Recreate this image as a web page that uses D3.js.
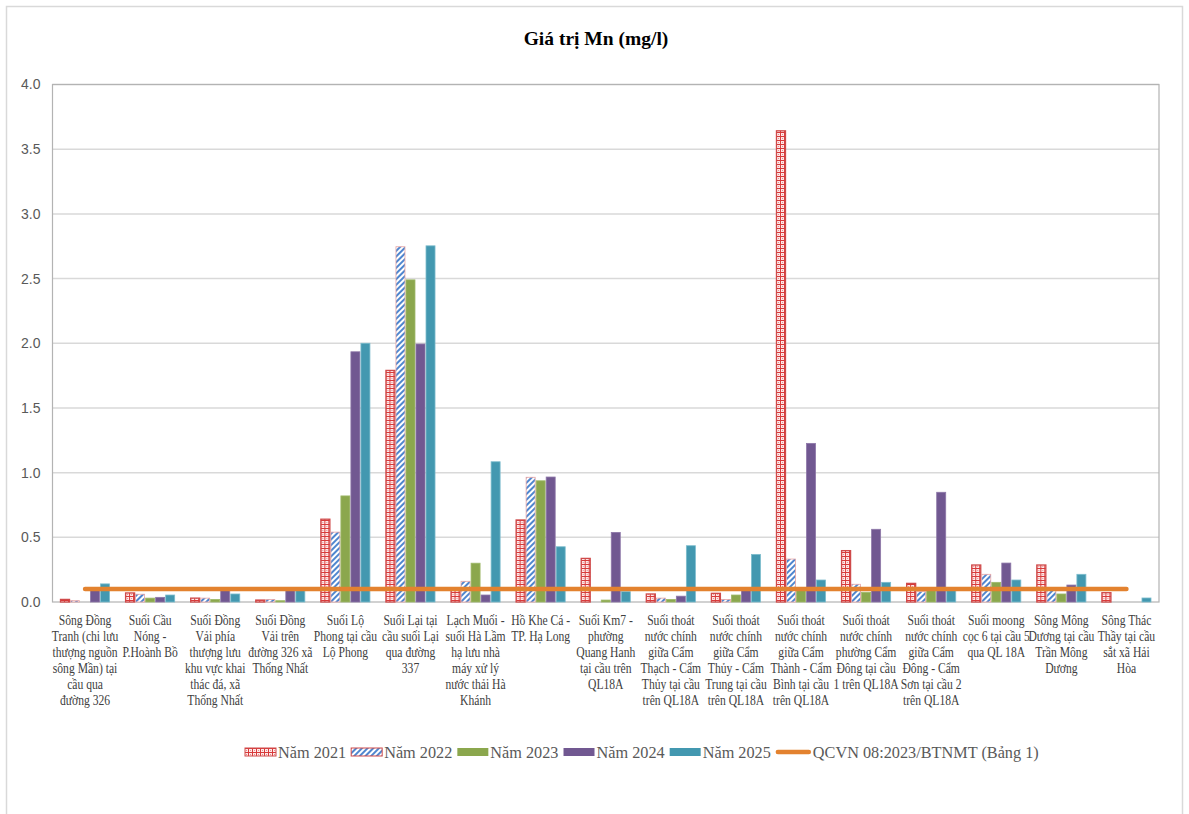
<!DOCTYPE html>
<html>
<head>
<meta charset="utf-8">
<script src="https://cdn.jsdelivr.net/npm/d3@7"></script>
<style>
  html, body { margin: 0; padding: 0; background: #fff; }
  svg { display: block; }
</style>
</head>
<body>
<svg id="chart" width="1189" height="814"></svg>
<script>
// Monitoring sites (tick labels, line breaks as printed)
const categories = [
  "Sông Đồng\nTranh (chi lưu\nthượng nguồn\nsông Mần) tại\ncầu qua\nđường 326",
  "Suối Cầu\nNóng -\nP.Hoành Bồ",
  "Suối Đồng\nVải phía\nthượng lưu\nkhu vực khai\nthác đá, xã\nThống Nhất",
  "Suối Đồng\nVải trên\nđường 326 xã\nThống Nhất",
  "Suối Lộ\nPhong tại cầu\nLộ Phong",
  "Suối Lại tại\ncầu suối Lại\nqua đường\n337",
  "Lạch Muối -\nsuối Hà Lầm\nhạ lưu nhà\nmáy xử lý\nnước thải Hà\nKhánh",
  "Hồ Khe Cá -\nTP. Hạ Long",
  "Suối Km7 -\nphường\nQuang Hanh\ntại cầu trên\nQL18A",
  "Suối thoát\nnước chính\ngiữa Cẩm\nThạch - Cẩm\nThủy tại cầu\ntrên QL18A",
  "Suối thoát\nnước chính\ngiữa Cẩm\nThủy - Cẩm\nTrung tại cầu\ntrên QL18A",
  "Suối thoát\nnước chính\ngiữa Cẩm\nThành - Cẩm\nBình tại cầu\ntrên QL18A",
  "Suối thoát\nnước chính\nphường Cẩm\nĐông tại cầu\n1 trên QL18A",
  "Suối thoát\nnước chính\ngiữa Cẩm\nĐông - Cẩm\nSơn tại cầu 2\ntrên QL18A",
  "Suối moong\ncọc 6 tại cầu 5\nqua QL 18A",
  "Sông Mông\nDương tại cầu\nTrần Mông\nDương",
  "Sông  Thác\nThầy tại cầu\nsắt xã Hải\nHòa"
];

// Series names
const seriesNames = ["Năm 2021", "Năm 2022", "Năm 2023", "Năm 2024", "Năm 2025"];
const limitName = "QCVN 08:2023/BTNMT (Bảng 1)";

// Mn concentration (mg/l) per site, per year
const mn2021 = [0.02, 0.07, 0.03, 0.015, 0.64, 1.79, 0.10, 0.634, 0.337, 0.062, 0.067, 3.642, 0.397, 0.144, 0.286, 0.286, 0.072];
const mn2022 = [0.01, 0.06, 0.03, 0.02, 0.54, 2.746, 0.16, 0.964, 0, 0.03, 0.02, 0.332, 0.137, 0.08, 0.214, 0.09, 0];
const mn2023 = [0, 0.03, 0.02, 0.01, 0.82, 2.49, 0.30, 0.937, 0.015, 0.02, 0.054, 0.09, 0.075, 0.09, 0.152, 0.062, 0];
const mn2024 = [0.09, 0.036, 0.09, 0.09, 1.934, 1.994, 0.054, 0.966, 0.538, 0.045, 0.09, 1.226, 0.562, 0.848, 0.301, 0.131, 0];
const mn2025 = [0.14, 0.054, 0.062, 0.09, 2.0, 2.753, 1.084, 0.427, 0.08, 0.435, 0.368, 0.17, 0.152, 0.09, 0.17, 0.214, 0.031];
// Permitted limit
const qcvnLimit = [0.1, 0.1, 0.1, 0.1, 0.1, 0.1, 0.1, 0.1, 0.1, 0.1, 0.1, 0.1, 0.1, 0.1, 0.1, 0.1, 0.1];

// Y axis ticks
const yTicks = [0, 0.5, 1.0, 1.5, 2.0, 2.5, 3.0, 3.5, 4.0];

const seriesValues = [mn2021, mn2022, mn2023, mn2024, mn2025];

const svg = d3.select("#chart");
const plot = { left: 52.5, right: 1159, top: 84.5, bottom: 602 };

// Fills
const defs = svg.append("defs");
const pRed = defs.append("pattern").attr("id", "pat2021")
  .attr("patternUnits", "userSpaceOnUse").attr("width", 4).attr("height", 4);
pRed.append("rect").attr("width", 4).attr("height", 4).attr("fill", "#fdeaea");
pRed.append("rect").attr("x", 0).attr("y", 0).attr("width", 4).attr("height", 1).attr("fill", "#d83a3a");
pRed.append("rect").attr("x", 0).attr("y", 0).attr("width", 1).attr("height", 4).attr("fill", "#d83a3a");
pRed.append("rect").attr("x", 2).attr("y", 2).attr("width", 1).attr("height", 1).attr("fill", "#eb8a8a");

const pBlue = defs.append("pattern").attr("id", "pat2022")
  .attr("patternUnits", "userSpaceOnUse").attr("width", 4).attr("height", 4)
  .attr("patternTransform", "rotate(45)");
pBlue.append("rect").attr("width", 4).attr("height", 4).attr("fill", "#ffffff");
pBlue.append("rect").attr("width", 2).attr("height", 4).attr("fill", "#4f86cf");

const fills = ["url(#pat2021)", "url(#pat2022)", "#8ba74d", "#715891", "#4398b0"];
const strokes = ["#cf4a4a", "#e7a3a3", "#9fb96a", "#8d77a8", "#7cbccd"];
const lineColor = "#e3822f";

// Frame
svg.append("rect").attr("x", 6.5).attr("y", 6.5).attr("width", 1176).attr("height", 820)
  .attr("fill", "#fff").attr("stroke", "#d9d9d9").attr("stroke-width", 1.5);

// Scales
const x = d3.scaleBand().domain(d3.range(categories.length))
  .range([plot.left, plot.right]).paddingInner(0.2305).paddingOuter(0.2305 / 2);
const xs = d3.scaleBand().domain(d3.range(seriesNames.length)).range([0, x.bandwidth()]);
const y = d3.scaleLinear().domain([0, 4]).range([plot.bottom, plot.top]);

// Gridlines
svg.append("g").selectAll("line").data(yTicks.slice(1)).join("line")
  .attr("x1", plot.left).attr("x2", plot.right)
  .attr("y1", d => y(d)).attr("y2", d => y(d))
  .attr("stroke", "#d9d9d9").attr("stroke-width", 1.5);

// Plot area border
svg.append("rect").attr("x", plot.left).attr("y", plot.top)
  .attr("width", plot.right - plot.left).attr("height", plot.bottom - plot.top)
  .attr("fill", "none").attr("stroke", "#b3b3b3").attr("stroke-width", 1.2);

// Y axis labels
const yAxis = d3.axisLeft(y).tickValues(yTicks).tickFormat(d3.format(".1f")).tickSize(0).tickPadding(12);
const gy = svg.append("g").attr("transform", `translate(${plot.left},0)`).call(yAxis);
gy.select(".domain").remove();
gy.selectAll("text").attr("font-family", "Liberation Sans, Arial, sans-serif")
  .attr("font-size", 14).attr("fill", "#595959");

// Bars
const groups = svg.append("g").selectAll("g").data(categories.map((c, i) => i)).join("g")
  .attr("transform", i => `translate(${x(i)},0)`);
groups.selectAll("rect")
  .data(i => seriesValues.map((vals, s) => ({ s, v: vals[i] })).filter(d => d.v > 0))
  .join("rect")
  .attr("x", d => xs(d.s) + 0.5)
  .attr("width", xs.bandwidth() - 1)
  .attr("y", d => y(d.v))
  .attr("height", d => y(0) - y(d.v))
  .attr("fill", d => fills[d.s])
  .attr("stroke", d => strokes[d.s])
  .attr("stroke-width", d => d.s === 0 ? 1.3 : 0.8);

// Limit line
const line = d3.line().x((d, i) => x(i) + x.bandwidth() / 2).y(d => y(d));
svg.append("path").datum(qcvnLimit).attr("d", line)
  .attr("fill", "none").attr("stroke", lineColor).attr("stroke-width", 4.5)
  .attr("stroke-linecap", "round");

// Category labels
const labelG = svg.append("g");
categories.forEach((c, i) => {
  const t = labelG.append("text")
    .attr("transform", `translate(${x(i) + x.bandwidth() / 2},625) scale(0.83,1)`)
    .attr("text-anchor", "middle")
    .attr("font-family", "Liberation Serif, Times New Roman, serif")
    .attr("font-size", 14).attr("fill", "#404040");
  c.split("\n").forEach((ln, k) => {
    t.append("tspan").attr("x", 0).attr("y", k * 16).text(ln);
  });
});

// Title
svg.append("text").attr("x", 596).attr("y", 45).attr("text-anchor", "middle")
  .attr("font-family", "Liberation Serif, Times New Roman, serif")
  .attr("font-weight", "bold").attr("font-size", 19.5).attr("fill", "#000")
  .text("Giá trị Mn (mg/l)");

// Legend
const leg = svg.append("g");
let lx = 245;
const ly = 752;
const legendItems = seriesNames.map((n, s) => ({ name: n, s })).concat([{ name: limitName, s: -1 }]);
legendItems.forEach(item => {
  if (item.s >= 0) {
    leg.append("rect").attr("x", lx).attr("y", ly - 4).attr("width", 31).attr("height", 8)
      .attr("fill", fills[item.s])
      .attr("stroke", item.s < 2 ? "#cf4a4a" : "none").attr("stroke-width", 1);
    lx += 33;
  } else {
    leg.append("line").attr("x1", lx + 2).attr("x2", lx + 33).attr("y1", ly).attr("y2", ly)
      .attr("stroke", lineColor).attr("stroke-width", 4.5).attr("stroke-linecap", "round");
    lx += 37;
  }
  const t = leg.append("text").attr("transform", `translate(${lx},${ly + 6}) scale(0.93,1)`)
    .attr("font-family", "Liberation Serif, Times New Roman, serif")
    .attr("font-size", 17.5).attr("fill", "#595959").text(item.name);
  lx += t.node().getComputedTextLength() * 0.93 + 5;
});
</script>
</body>
</html>
